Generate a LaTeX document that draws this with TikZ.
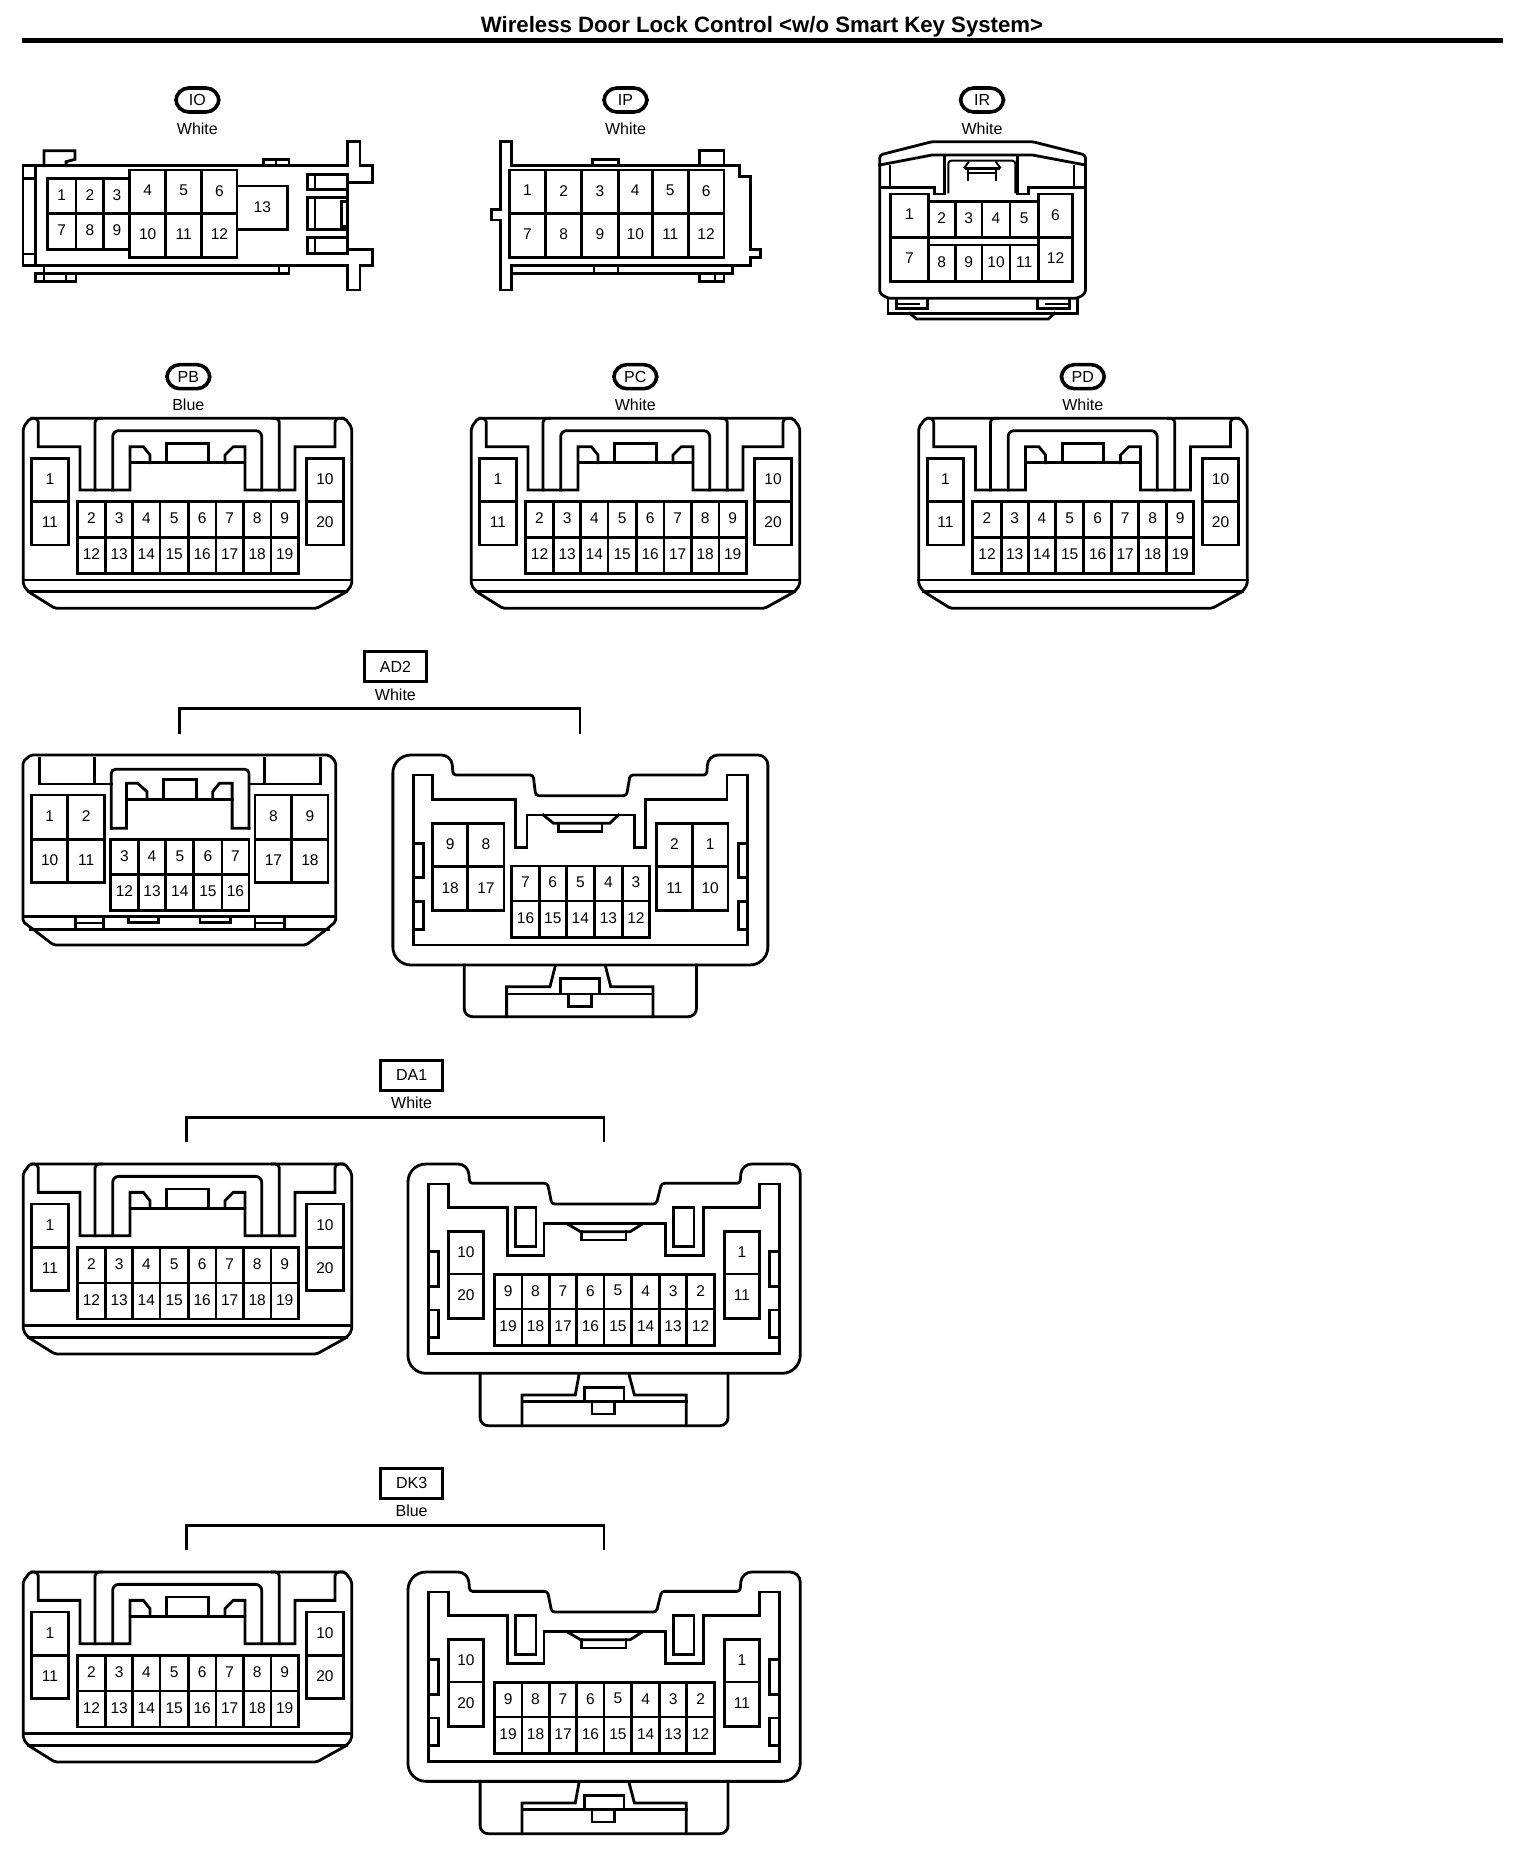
\documentclass[tikz,border=0pt]{standalone}
\usepackage{fontspec}
\setmainfont{Liberation Sans}
\newcounter{pinc}
\tikzset{
  ln/.style={line width=2.8pt,line join=miter,line cap=rect,draw=black},
  thn/.style={line width=2pt,line join=miter,draw=black},
  pin/.style={inner sep=0pt,font=\fontsize{15.5}{16}\selectfont,text=black},
  colr/.style={inner sep=0pt,font=\fontsize{16}{17}\selectfont,text=black},
  oval/.style={draw=black,line width=3.6pt,rounded corners=13pt,minimum width=43pt,minimum height=24pt,inner sep=0pt,font=\fontsize{16}{17}\selectfont},
  tagbox/.style={draw=black,line width=3pt,minimum width=62pt,minimum height=30pt,inner sep=0pt,font=\fontsize{16}{17}\selectfont},
  z3/.style={x=0.33333pt,y=-0.33333pt},
  z1/.style={x=0.4898pt,y=-0.33333pt},
  z4/.style={x=0.5102pt,y=-0.33333pt},
  z5/.style={x=0.523pt,y=-0.33333pt},
}
% #1 = list x1/x2/label, #2 = y1, #3 = y2
\newcommand{\cellrow}[3]{%
  \foreach \a/\b/\t in {#1}{%
    \stepcounter{pinc}%
    \draw[ln] (\a,#2) rectangle (\b,#3);
    \node[pin] (pin-\thepinc) at ({(\a+\b)/2},{(#2+#3)/2-3}) {\t};
  }}
% plug of the PB type, in crop coordinates of (0,350) at 3x
\newcommand{\plugA}{%
  \draw[ln,rounded corners=2pt] (560,205) -- (1035,205) -- (1055,232) -- (1055,705) -- (1040,725) -- (950,775) -- (165,775) -- (85,725) -- (70,705) -- (70,232) -- (90,205) -- cycle;
  \draw[ln] (70,690) -- (1055,690);
  \draw[ln] (85,725) -- (1040,725);
  \draw[ln,rounded corners=4pt] (95,205) -- (115,205) -- (115,250) [sharp corners] -- (115,290) -- (240,290) -- (240,420) -- (390,420) -- (390,290) -- (430,290) -- (450,315) -- (450,338);
  \draw[ln,rounded corners=4pt] (1030,205) -- (1005,205) -- (1005,250) [sharp corners] -- (1005,290) -- (885,290) -- (885,420) -- (735,420) -- (735,290) -- (700,290) -- (675,315) -- (675,338);
  \draw[ln] (395,338) -- (735,338);
  \draw[ln] (500,338) -- (500,280) -- (625,280) -- (625,338);
  \draw[ln,rounded corners=4pt] (305,205) -- (285,205) -- (285,420);
  \draw[ln,rounded corners=4pt] (818,205) -- (838,205) -- (838,420);
  \draw[ln,rounded corners=6pt] (338,420) -- (338,242) -- (785,242) -- (785,420);
  \cellrow{95/205/1}{325}{455}
  \cellrow{95/205/11}{455}{585}
  \cellrow{920/1030/10}{325}{455}
  \cellrow{920/1030/20}{455}{585}
  \cellrow{232/317/2,317/398/3,398/480/4,480/565/5,565/648/6,648/730/7,730/813/8,813/895/9}{455}{562}
  \cellrow{232/317/12,317/398/13,398/480/14,480/565/15,565/648/16,648/730/17,730/813/18,813/895/19}{562}{670}
}
% socket of the DA1 type, in crop coordinates of (0,1050), x/1.912, y/3
\newcommand{\plugB}{%
  \draw[ln,rounded corners=10pt] (840,342) -- (895,342) [rounded corners=3pt] -- (898,400) -- (1047,400) -- (1055,462) -- (1255,462) -- (1265,400) -- (1415,400) [rounded corners=10pt] -- (1418,342) -- (1530,342) [rounded corners=18pt] -- (1530,970) -- (780,970) -- (780,342) [rounded corners=10pt] -- cycle;
  \draw[ln] (820,402) -- (858,402) -- (858,472) -- (970,472) -- (970,617) -- (1040,617) -- (1040,520) -- (1272,520) -- (1272,617) -- (1345,617) -- (1345,472) -- (1452,472) -- (1452,402) -- (1490,402) -- (1490,910) -- (820,910) -- cycle;
  \draw[ln] (985,472) rectangle (1025,590);
  \draw[ln] (1287,472) rectangle (1327,590);
  \draw[ln] (1085,522) -- (1110,545) -- (1205,545) -- (1228,522);
  \draw[ln] (1112,545) -- (1112,570) -- (1197,570) -- (1197,545);
  \draw[ln] (820,605) -- (838,605) -- (838,710) -- (820,710);
  \draw[ln] (820,780) -- (838,780) -- (838,862) -- (820,862);
  \draw[ln] (1490,605) -- (1472,605) -- (1472,710) -- (1490,710);
  \draw[ln] (1490,780) -- (1472,780) -- (1472,862) -- (1490,862);
  \draw[ln,rounded corners=8pt] (918,970) -- (918,1127) -- (1392,1127) -- (1392,970);
  \draw[ln] (998,1127) -- (998,1035) -- (1100,1035) -- (1107,975);
  \draw[ln] (1312,1127) -- (1312,1035) -- (1213,1035) -- (1203,975);
  \draw[ln] (998,1055) -- (1312,1055);
  \draw[ln] (1118,1055) -- (1118,1012) -- (1193,1012) -- (1193,1055);
  \draw[ln] (1132,1055) -- (1132,1092) -- (1175,1092) -- (1175,1055);
  \cellrow{857/925/10}{545}{672}
  \cellrow{857/925/20}{672}{805}
  \cellrow{1385/1452/1}{545}{672}
  \cellrow{1385/1452/11}{672}{805}
  \cellrow{945/998/9,998/1050/8,1050/1103/7,1103/1155/6,1155/1208/5,1208/1261/4,1261/1313/3,1313/1366/2}{673}{777}
  \cellrow{945/998/19,998/1050/18,1050/1103/17,1103/1155/16,1155/1208/15,1208/1261/14,1261/1313/13,1313/1366/12}{777}{887}
}
\begin{document}
\begin{tikzpicture}[x=1pt,y=-1pt]
\path[fill=white,use as bounding box] (0,0) rectangle (1536,1860);
% title
\node[inner sep=0pt,font=\bfseries\fontsize{22.2}{24}\selectfont] (title) at (762,27) {Wireless Door Lock Control <w/o Smart Key System>};
\coordinate (ruleL) at (22,40.5);
\coordinate (ruleR) at (1503,40.5);
\draw[line width=5pt] (ruleL) -- (ruleR);

% ---- IO and IP
\begin{scope}[z1]
  \node[oval] (tagIO) at (403,300) {IO};
  \node[colr] (colIO) at (403,385) {White};
  \draw[ln] (710,497) -- (47,497) -- (47,797) -- (710,797);
  \draw[ln] (72,497) -- (72,797);
  \draw[ln] (47,535) -- (72,535);
  \draw[ln] (47,762) -- (72,762);
  \draw[ln] (710,497) -- (710,425) -- (735,425) -- (735,497) -- (760,497) -- (760,548) -- (710,548) -- (710,748) -- (760,748) -- (760,797) -- (735,797) -- (735,870) -- (710,870) -- (710,797);
  \draw[ln] (628,523) rectangle (710,568);
  \draw[ln] (643,523) -- (643,568);
  \draw[ln] (628,592) rectangle (710,688);
  \draw[ln] (643,592) -- (643,688);
  \draw[ln] (697,605) rectangle (710,680);
  \draw[ln] (628,712) rectangle (710,760);
  \draw[ln] (643,712) -- (643,760);
  \draw[ln] (90,497) -- (90,452) -- (153,452) -- (153,478) -- (135,485) -- (135,497);
  \draw[ln] (538,497) -- (538,478) -- (590,478) -- (590,497);
  \draw[thn] (563,478) -- (563,497);
  \draw[ln] (90,797) -- (90,820) -- (590,820) -- (590,797);
  \draw[thn] (570,797) -- (570,820);
  \draw[ln] (72,820) -- (72,845) -- (155,845) -- (155,820) -- cycle;
  \draw[thn] (90,820) -- (90,845);
  \draw[thn] (135,820) -- (135,845);
  \cellrow{97/155/1,155/212/2,212/265/3}{535}{640}
  \cellrow{97/155/7,155/212/8,212/265/9}{640}{748}
  \cellrow{265/338/4,338/412/5,412/484/6}{510}{640}
  \cellrow{265/338/10,338/412/11,412/484/12}{640}{772}
  \cellrow{484/587/13}{558}{688}
  % IP
  \node[oval] (tagIP) at (1277,300) {IP};
  \node[colr] (colIP) at (1277,385) {White};
  \draw[ln] (1022,425) -- (1045,425) -- (1045,497) -- (1510,497) -- (1510,530) -- (1533,530) -- (1533,748) -- (1552,748) -- (1552,772) -- (1533,772) -- (1533,797) -- (1045,797) -- (1045,870) -- (1022,870) -- (1022,660) -- (1003,660) -- (1003,628) -- (1022,628) -- cycle;
  \draw[ln] (1210,497) -- (1210,478) -- (1262,478) -- (1262,497);
  \draw[ln] (1428,497) -- (1428,452) -- (1478,452) -- (1478,497);
  \draw[ln] (1045,820) -- (1495,820) -- (1495,797);
  \draw[thn] (1212,797) -- (1212,820);
  \draw[thn] (1262,797) -- (1262,820);
  \draw[ln] (1428,820) -- (1428,845) -- (1478,845) -- (1478,820);
  \draw[thn] (1460,820) -- (1460,845);
  \cellrow{1040/1114/1,1114/1188/2,1188/1262/3,1262/1332/4,1332/1405/5,1405/1478/6}{510}{640}
  \cellrow{1040/1114/7,1114/1188/8,1188/1262/9,1262/1332/10,1332/1405/11,1405/1478/12}{640}{772}
\end{scope}

% ---- IR
\begin{scope}[z1,shift={(768pt,0pt)}]
  \node[oval] (tagIR) at (437,300) {IR};
  \node[colr] (colIR) at (437,385) {White};
  \draw[ln,rounded corners=3pt] (437,425) -- (540,425) -- (648,465) -- (648,880) -- (632,895) -- (245,895) -- (228,880) -- (228,465) -- (335,425) -- cycle;
  \draw[ln] (228,495) -- (335,465) -- (540,465) -- (648,495);
  \draw[ln] (232,562) -- (340,562) -- (340,582) -- (360,582) -- (360,470);
  \draw[ln] (645,562) -- (532,562) -- (532,582) -- (510,582) -- (510,470);
  \draw[thn] (250,495) -- (250,560);
  \draw[thn] (625,495) -- (625,560);
  \draw[thn,rounded corners=3pt] (368,580) -- (368,482) -- (505,482) -- (505,580);
  \draw[thn] (400,505) -- (410,485);
  \draw[thn] (475,505) -- (465,485);
  \draw[ln] (405,505) -- (470,505);
  \draw[thn] (408,505) -- (408,542);
  \draw[thn] (465,505) -- (465,542);
  \draw[thn] (408,518) -- (465,518);
  \cellrow{250/327/1}{582}{712}
  \cellrow{250/327/7}{712}{845}
  \cellrow{552/622/6}{582}{712}
  \cellrow{552/622/12}{712}{845}
  \cellrow{327/382/2,382/437/3,437/494/4,494/552/5}{605}{712}
  \cellrow{327/382/8,382/437/9,437/494/10,494/552/11}{735}{845}
  \draw[ln] (245,895) -- (245,940) -- (632,940) -- (632,895);
  \draw[ln] (262,895) -- (262,925) -- (325,925) -- (325,900);
  \draw[ln] (550,900) -- (550,925) -- (615,925) -- (615,895);
  \draw[thn] (262,912) -- (310,912);
  \draw[thn] (565,912) -- (615,912);
  \draw[ln] (290,940) -- (303,957) -- (572,957) -- (585,940);
\end{scope}

% ---- PB, PC, PD
\begin{scope}[z3,shift={(0pt,-350pt)}]
  \plugA
  \node[oval] (tagPB) at (565,80) {PB};
  \node[colr] (colPB) at (565,163) {Blue};
\end{scope}
\begin{scope}[z3,shift={(448pt,-350pt)}]
  \plugA
  \node[oval] (tagPC) at (562,80) {PC};
  \node[colr] (colPC) at (562,163) {White};
\end{scope}
\begin{scope}[z3,shift={(895.5pt,-350pt)}]
  \plugA
  \node[oval] (tagPD) at (562,80) {PD};
  \node[colr] (colPD) at (562,163) {White};
\end{scope}

% ---- AD2
\begin{scope}[z4,shift={(0pt,-640pt)}]
  \node[tagbox] (tagAD) at (775,80) {AD2};
  \node[colr] (colAD) at (775,163) {White};
  \coordinate (adL) at (352,283);
  \coordinate (adR) at (1137,283);
  \draw[ln,line cap=butt] (adL) -- (352,205) -- (1137,205) -- (adR);
  % left
  \draw[ln,rounded corners=2pt] (350,345) -- (645,345) -- (658,365) -- (658,845) -- (640,868) -- (600,915) -- (105,915) -- (65,868) -- (45,845) -- (45,365) -- (60,345) -- cycle;
  \draw[ln] (45,830) -- (658,830);
  \draw[ln] (60,868) -- (645,868);
  \draw[ln] (78,355) -- (78,432) -- (218,432);
  \draw[ln] (185,355) -- (185,430);
  \draw[ln] (518,355) -- (518,430);
  \draw[ln] (488,432) -- (628,432) -- (628,355);
  \draw[ln,rounded corners=4pt] (218,565) -- (218,388) -- (488,388) -- (488,565);
  \draw[ln] (218,565) -- (248,565) -- (248,430) -- (270,430) -- (288,455) -- (288,478);
  \draw[ln] (488,565) -- (455,565) -- (455,430) -- (430,430) -- (417,455) -- (417,478);
  \draw[ln] (248,478) -- (455,478);
  \draw[ln] (320,478) -- (320,418) -- (385,418) -- (385,478);
  \cellrow{62/133/1,133/205/2}{465}{598}
  \cellrow{62/133/10,133/205/11}{598}{728}
  \cellrow{500/572/8,572/643/9}{465}{598}
  \cellrow{500/572/17,572/643/18}{598}{728}
  \cellrow{217/271/3,271/325/4,325/380/5,380/435/6,435/488/7}{598}{703}
  \cellrow{217/271/12,271/325/13,325/380/14,380/435/15,435/488/16}{703}{812}
  \draw[ln] (148,830) rectangle (203,868);
  \draw[thn] (148,850) -- (203,850);
  \draw[ln] (500,830) rectangle (557,868);
  \draw[thn] (500,850) -- (557,850);
  \draw[ln] (252,830) -- (252,847) -- (310,847) -- (310,830);
  \draw[ln] (392,830) -- (392,847) -- (452,847) -- (452,830);
  % right
  \draw[ln,rounded corners=10pt] (830,345) -- (885,345) [rounded corners=3pt] -- (888,405) -- (1045,405) -- (1050,467) -- (1228,467) -- (1235,405) -- (1385,405) [rounded corners=10pt] -- (1388,345) -- (1505,345) [rounded corners=18pt] -- (1505,975) -- (770,975) -- (770,345) [rounded corners=10pt] -- cycle;
  \draw[ln] (810,405) -- (848,405) -- (848,478) -- (1010,478) -- (1010,622) -- (1033,622) -- (1033,525) -- (1243,525) -- (1243,622) -- (1265,622) -- (1265,478) -- (1425,478) -- (1425,405) -- (1465,405) -- (1465,915) -- (810,915) -- cycle;
  \draw[ln] (1065,525) -- (1085,550) -- (1195,550) -- (1212,525);
  \draw[ln] (1095,550) -- (1095,575) -- (1180,575) -- (1180,550);
  \draw[ln] (810,610) -- (830,610) -- (830,712) -- (810,712);
  \draw[ln] (810,785) -- (830,785) -- (830,868) -- (810,868);
  \draw[ln] (1465,610) -- (1447,610) -- (1447,712) -- (1465,712);
  \draw[ln] (1465,785) -- (1447,785) -- (1447,868) -- (1465,868);
  \draw[ln,rounded corners=8pt] (910,975) -- (910,1130) -- (1365,1130) -- (1365,975);
  \draw[ln] (993,1130) -- (993,1040) -- (1078,1040) -- (1088,980);
  \draw[ln] (1280,1130) -- (1280,1040) -- (1197,1040) -- (1187,980);
  \draw[ln] (993,1062) -- (1280,1062);
  \draw[ln] (1098,1062) -- (1098,1015) -- (1175,1015) -- (1175,1062);
  \draw[ln] (1115,1062) -- (1115,1100) -- (1160,1100) -- (1160,1062);
  \cellrow{848/917/9,917/988/8}{550}{680}
  \cellrow{848/917/18,917/988/17}{680}{812}
  \cellrow{1287/1357/2,1357/1427/1}{550}{680}
  \cellrow{1287/1357/11,1357/1427/10}{680}{812}
  \cellrow{1003/1057/7,1057/1110/6,1110/1165/5,1165/1220/4,1220/1273/3}{678}{783}
  \cellrow{1003/1057/16,1057/1110/15,1110/1165/14,1165/1220/13,1220/1273/12}{783}{893}
\end{scope}

% ---- DA1
\begin{scope}[z3,shift={(0pt,-1095.7pt)}]
  \plugA
\end{scope}
\begin{scope}[z5,shift={(0pt,-1050pt)}]
  \node[tagbox] (tagDA) at (787,75) {DA1};
  \node[colr] (colDA) at (787,157) {White};
  \coordinate (daL) at (357,277);
  \coordinate (daR) at (1155,277);
  \draw[ln,line cap=butt] (daL) -- (357,202) -- (1155,202) -- (daR);
  \plugB
\end{scope}

% ---- DK3
\begin{scope}[z3,shift={(0pt,-1503.7pt)}]
  \plugA
\end{scope}
\begin{scope}[z5,shift={(0pt,-1458pt)}]
  \node[tagbox] (tagDK) at (787,75) {DK3};
  \node[colr] (colDK) at (787,157) {Blue};
  \coordinate (dkL) at (357,277);
  \coordinate (dkR) at (1155,277);
  \draw[ln,line cap=butt] (dkL) -- (357,202) -- (1155,202) -- (dkR);
  \plugB
\end{scope}
\end{tikzpicture}
\end{document}
